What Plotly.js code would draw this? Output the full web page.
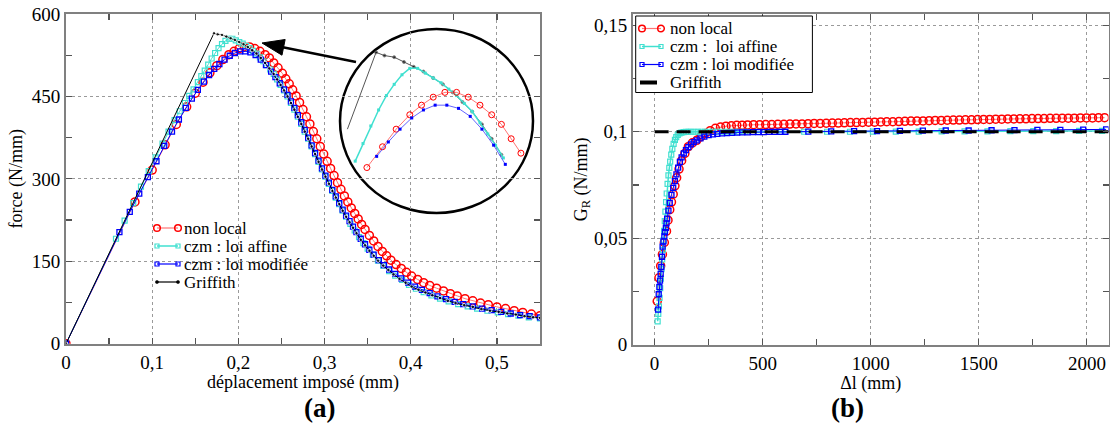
<!DOCTYPE html>
<html><head><meta charset="utf-8">
<script src="https://cdn.plot.ly/plotly-3.0.1.min.js"></script>
<style>html,body{margin:0;padding:0;background:#fff}#chart{width:1110px;height:435px}</style>
</head><body><div id="chart"></div>
<script>
// ---------- (a) force vs imposed displacement ----------
const dispNonLocal = [0, 0.08, 0.1, 0.115, 0.128, 0.14, 0.15, 0.159, 0.167, 0.175, 0.182, 0.189, 0.195, 0.201, 0.207, 0.213, 0.219, 0.225, 0.231, 0.236, 0.241, 0.246, 0.251, 0.255, 0.259, 0.263, 0.267, 0.271, 0.275, 0.279, 0.283, 0.287, 0.291, 0.295, 0.299, 0.303, 0.307, 0.311, 0.315, 0.319, 0.323, 0.327, 0.331, 0.335, 0.339, 0.343, 0.347, 0.352, 0.357, 0.362, 0.367, 0.372, 0.377, 0.383, 0.389, 0.395, 0.401, 0.408, 0.415, 0.422, 0.43, 0.438, 0.446, 0.454, 0.463, 0.472, 0.481, 0.49, 0.5, 0.51, 0.52, 0.53, 0.54, 0.55];
const forceNonLocal = [0, 258, 316, 362, 399, 431, 456, 476, 493, 506, 517, 526, 532, 537, 540, 540, 537, 532, 526, 520, 511, 502, 492, 482, 473, 462, 451, 439, 426, 413, 400, 386, 373, 359, 345, 332, 319, 306, 293, 281, 269, 258, 247, 237, 227, 217, 208, 197, 187, 177, 168, 160, 152, 144, 137, 130, 123, 117, 111, 106, 101, 96, 91, 87, 82, 78, 74, 71, 67, 64, 60, 57, 54, 51];

const dispAffine = [0, 0.058, 0.068, 0.078, 0.087, 0.096, 0.104, 0.112, 0.119, 0.126, 0.132, 0.138, 0.143, 0.148, 0.153, 0.157, 0.161, 0.165, 0.169, 0.173, 0.177, 0.181, 0.185, 0.189, 0.193, 0.197, 0.201, 0.205, 0.209, 0.213, 0.217, 0.221, 0.225, 0.229, 0.233, 0.237, 0.241, 0.245, 0.249, 0.253, 0.257, 0.261, 0.265, 0.269, 0.273, 0.277, 0.281, 0.285, 0.289, 0.293, 0.297, 0.301, 0.305, 0.309, 0.313, 0.317, 0.321, 0.325, 0.33, 0.335, 0.34, 0.345, 0.35, 0.356, 0.362, 0.368, 0.375, 0.382, 0.39, 0.398, 0.406, 0.415, 0.424, 0.434, 0.444, 0.455, 0.466, 0.477, 0.489, 0.501, 0.513, 0.525, 0.537, 0.55];
const forceAffine = [0, 191, 224, 256, 286, 314, 339, 364, 386, 407, 423, 438, 451, 463, 476, 487, 497, 508, 519, 529, 538, 545, 551, 555, 555, 552, 549, 546, 542, 538, 533, 528, 521, 514, 507, 499, 491, 481, 471, 461, 450, 438, 426, 413, 400, 386, 373, 359, 345, 331, 317, 304, 291, 278, 266, 254, 242, 231, 218, 206, 194, 183, 173, 162, 151, 142, 132, 124, 116, 107, 100, 94, 88, 82, 77, 72, 68, 64, 60, 57, 54, 51, 48, 46];

const dispModif = [0, 0.062, 0.074, 0.085, 0.095, 0.105, 0.114, 0.123, 0.131, 0.139, 0.146, 0.153, 0.16, 0.166, 0.172, 0.178, 0.184, 0.19, 0.196, 0.202, 0.208, 0.214, 0.22, 0.226, 0.232, 0.238, 0.243, 0.248, 0.253, 0.257, 0.261, 0.265, 0.269, 0.273, 0.277, 0.281, 0.285, 0.289, 0.293, 0.297, 0.301, 0.305, 0.309, 0.313, 0.317, 0.321, 0.325, 0.329, 0.333, 0.337, 0.342, 0.347, 0.352, 0.357, 0.363, 0.369, 0.375, 0.382, 0.389, 0.397, 0.405, 0.413, 0.422, 0.431, 0.441, 0.451, 0.461, 0.472, 0.483, 0.494, 0.505, 0.516, 0.527, 0.538, 0.55];
const forceModif = [0, 203, 240, 273, 303, 332, 360, 386, 408, 429, 446, 462, 477, 489, 500, 509, 517, 524, 529, 532, 532, 530, 525, 517, 507, 495, 485, 474, 463, 453, 441, 429, 416, 403, 389, 375, 361, 347, 333, 319, 306, 293, 280, 268, 256, 244, 233, 223, 213, 203, 191, 181, 171, 162, 152, 143, 135, 127, 119, 111, 104, 98, 92, 86, 81, 76, 72, 68, 64, 61, 58, 55, 52, 50, 48];

const dispGriffith = [0, 0.157, 0.1717, 0.176, 0.181, 0.186, 0.191, 0.196, 0.201, 0.206, 0.211, 0.216, 0.221, 0.226, 0.231, 0.236, 0.241, 0.245, 0.249, 0.253, 0.257, 0.261, 0.265, 0.269, 0.273, 0.277, 0.281, 0.285, 0.289, 0.293, 0.297, 0.301, 0.305, 0.309, 0.313, 0.317, 0.321, 0.325, 0.329, 0.333, 0.337, 0.342, 0.347, 0.352, 0.357, 0.362, 0.368, 0.374, 0.38, 0.387, 0.394, 0.401, 0.409, 0.417, 0.425, 0.434, 0.443, 0.452, 0.462, 0.472, 0.482, 0.492, 0.502, 0.512, 0.522, 0.532, 0.542, 0.55];
const forceGriffith = [0, 517, 565, 563, 562, 559, 556, 553, 549, 545, 540, 534, 528, 520, 511, 501, 491, 481, 471, 461, 450, 438, 426, 413, 400, 386, 373, 359, 345, 331, 317, 304, 291, 278, 266, 254, 242, 231, 221, 211, 201, 189, 179, 169, 160, 151, 142, 134, 126, 118, 111, 104, 98, 93, 88, 83, 78, 74, 70, 67, 63, 60, 58, 55, 53, 50, 48, 47];

// ---------- (b) G_R vs crack extension ----------
const dlNonLocal = [12, 20, 28, 36, 45, 55, 62, 70, 78, 86, 94, 102, 113, 125, 140, 156, 175, 195, 214, 234, 257, 281, 305, 330, 355, 380, 405, 430, 458, 486, 514, 542, 570, 598, 626, 654, 682, 710, 738, 766, 794, 822, 850, 878, 906, 934, 962, 990, 1018, 1046, 1074, 1102, 1130, 1158, 1186, 1214, 1242, 1270, 1298, 1326, 1354, 1382, 1410, 1438, 1466, 1494, 1522, 1550, 1578, 1606, 1634, 1662, 1690, 1718, 1746, 1774, 1802, 1830, 1858, 1886, 1914, 1942, 1970, 1998, 2026, 2054, 2082];
const grNonLocal = [0.0204, 0.0314, 0.037, 0.0424, 0.048, 0.0533, 0.0585, 0.0634, 0.067, 0.0707, 0.0746, 0.0784, 0.0825, 0.0864, 0.0898, 0.093, 0.0948, 0.096, 0.0977, 0.0992, 0.1005, 0.1016, 0.1022, 0.1026, 0.1028, 0.103, 0.1031, 0.1032, 0.1033, 0.1033, 0.1034, 0.1034, 0.1035, 0.1035, 0.1036, 0.1037, 0.1037, 0.1038, 0.1039, 0.1039, 0.104, 0.1041, 0.1041, 0.1042, 0.1043, 0.1043, 0.1044, 0.1045, 0.1045, 0.1046, 0.1047, 0.1047, 0.1048, 0.1049, 0.105, 0.1051, 0.1051, 0.1052, 0.1053, 0.1053, 0.1054, 0.1055, 0.1055, 0.1056, 0.1056, 0.1057, 0.1058, 0.1058, 0.1059, 0.1059, 0.106, 0.106, 0.1061, 0.1061, 0.1062, 0.1062, 0.1062, 0.1063, 0.1063, 0.1064, 0.1064, 0.1064, 0.1065, 0.1065, 0.1065, 0.1066, 0.1066];

const dlAffine = [14, 17, 20, 23, 26, 29, 32, 35, 38, 41, 44, 47, 50, 53, 56, 60, 64, 68, 72, 77, 82, 88, 94, 100, 107, 115, 124, 134, 145, 157, 170, 185, 200, 216, 233, 251, 270, 290, 312, 336, 362, 390, 420, 480, 586, 692, 798, 904, 1010, 1116, 1222, 1328, 1434, 1540, 1646, 1752, 1858, 1964, 2070];
const grAffine = [0.011, 0.0145, 0.018, 0.022, 0.0265, 0.031, 0.0355, 0.04, 0.0445, 0.049, 0.0535, 0.058, 0.0625, 0.067, 0.071, 0.0755, 0.0795, 0.083, 0.086, 0.0893, 0.092, 0.0943, 0.0962, 0.0975, 0.0985, 0.0992, 0.0996, 0.0998, 0.0999, 0.1, 0.1, 0.1, 0.1, 0.1, 0.1, 0.1, 0.1, 0.1, 0.1, 0.1, 0.1, 0.1, 0.1, 0.1, 0.1, 0.1, 0.1, 0.1, 0.1001, 0.1001, 0.1001, 0.1002, 0.1002, 0.1002, 0.1003, 0.1003, 0.1003, 0.1004, 0.1004];

const dlModif = [16, 19, 22, 25, 28, 31, 34, 37, 41, 45, 48, 52, 55, 58, 64, 70, 78, 86, 94, 101, 109, 117, 125, 135, 145, 156, 168, 181, 195, 212, 230, 250, 270, 290, 312, 335, 358, 382, 405, 430, 455, 480, 505, 530, 555, 580, 605, 711, 817, 923, 1029, 1135, 1241, 1347, 1453, 1559, 1665, 1771, 1877, 1983, 2089];
const grModif = [0.0165, 0.0237, 0.027, 0.0301, 0.0333, 0.0365, 0.0413, 0.0461, 0.0485, 0.0509, 0.0529, 0.0549, 0.057, 0.0592, 0.063, 0.0666, 0.0704, 0.0736, 0.0768, 0.08, 0.0832, 0.0858, 0.088, 0.0898, 0.0914, 0.0928, 0.0941, 0.0951, 0.096, 0.0969, 0.0977, 0.0984, 0.0988, 0.099, 0.0992, 0.0994, 0.0995, 0.0996, 0.0997, 0.0997, 0.0998, 0.0998, 0.0998, 0.0999, 0.0999, 0.0999, 0.1, 0.1001, 0.1002, 0.1003, 0.1003, 0.1004, 0.1005, 0.1006, 0.1006, 0.1007, 0.1008, 0.1009, 0.1009, 0.101, 0.1011];

const dlGriffith = [0, 2100];
const grGriffith = [0.1, 0.1];

// tick values and series names
const forceTicks = [0, 150, 300, 450, 600];
const dispTicks = [0, 0.1, 0.2, 0.3, 0.4, 0.5];
const dlTicks = [0, 500, 1000, 1500, 2000];
const grTicks = [0, 0.05, 0.1, 0.15];
const namesA = ['non local', 'czm : loi affine', 'czm : loi modifiée', 'Griffith'];
const namesB = ['non local', 'czm :\u00a0 loi affine', 'czm : loi modifiée', 'Griffith'];

// ---------- helpers ----------
const W = 1110, H = 435;
const px = v => v / W;
const py = v => 1 - v / H;
const FONT = 'Liberation Serif';
const RED = '#ff0000', REDLINE = 'rgba(255,70,70,0.75)', CYAN = 'rgb(64,224,208)', BLUE = '#0000ff', BLACK = '#000000';

function subset(xs, ys, lo, hi) {
  const X = [], Y = [];
  xs.forEach((v, i) => { if (v >= lo && v <= hi) { X.push(v); Y.push(ys[i]); } });
  return {x: X, y: Y};
}

const traces = [];
// (a) main
traces.push({x: dispNonLocal, y: forceNonLocal, name: namesA[0], mode: 'lines+markers', xaxis: 'x', yaxis: 'y',
  line: {color: REDLINE, width: 1}, marker: {symbol: 'circle-open', size: 8, color: RED, line: {width: 1.5}}});
traces.push({x: dispAffine, y: forceAffine, name: namesA[1], mode: 'lines+markers', xaxis: 'x', yaxis: 'y',
  line: {color: CYAN, width: 1}, marker: {symbol: 'square-open', size: 5, color: CYAN, line: {width: 1.2}}});
traces.push({x: dispModif, y: forceModif, name: namesA[2], mode: 'lines+markers', xaxis: 'x', yaxis: 'y',
  line: {color: BLUE, width: 1}, marker: {symbol: 'square-open', size: 5, color: BLUE, line: {width: 1.3}}});
traces.push({x: dispGriffith, y: forceGriffith, name: namesA[3], mode: 'lines+markers', xaxis: 'x', yaxis: 'y',
  line: {color: BLACK, width: 1}, marker: {symbol: 'circle', size: dispGriffith.map(v => (v > 0 && v < 0.17) ? 0 : 3.5), color: BLACK}});

// (a) inset: magnified view of the peak region
const inR = subset(dispNonLocal, forceNonLocal, 0.167, 0.246);
const inC = subset(dispAffine, forceAffine, 0.161, 0.237);
const inB = subset(dispModif, forceModif, 0.172, 0.238);
const inG = subset(dispGriffith, forceGriffith, 0.157, 0.2365);
traces.push({x: inG.x, y: inG.y, mode: 'lines+markers', xaxis: 'x3', yaxis: 'y3', hoverinfo: 'skip',
  line: {color: '#555', width: 1}, marker: {symbol: 'circle', size: inG.x.map(v => v < 0.17 ? 0 : 3), color: BLACK}});
traces.push({x: inC.x, y: inC.y, mode: 'lines+markers', xaxis: 'x3', yaxis: 'y3', hoverinfo: 'skip',
  line: {color: CYAN, width: 1.5}, marker: {symbol: 'square', size: 3, color: CYAN}});
traces.push({x: inR.x, y: inR.y, mode: 'lines+markers', xaxis: 'x3', yaxis: 'y3', hoverinfo: 'skip',
  line: {color: REDLINE, width: 1}, marker: {symbol: 'circle-open', size: 6, color: RED, line: {width: 1}}});
traces.push({x: inB.x, y: inB.y, mode: 'lines+markers', xaxis: 'x3', yaxis: 'y3', hoverinfo: 'skip',
  line: {color: 'rgba(60,60,255,0.8)', width: 1}, marker: {symbol: 'square', size: 3, color: BLUE}});

// (b)
traces.push({x: dlNonLocal, y: grNonLocal, name: namesB[0], mode: 'lines+markers', xaxis: 'x2', yaxis: 'y2',
  line: {color: REDLINE, width: 1}, marker: {symbol: 'circle-open', size: 8, color: RED, line: {width: 1.5}}});
traces.push({x: dlAffine, y: grAffine, name: namesB[1], mode: 'lines+markers', xaxis: 'x2', yaxis: 'y2',
  line: {color: CYAN, width: 1.5}, marker: {symbol: 'square-open', size: 5, color: CYAN, line: {width: 1.2}}});
traces.push({x: dlModif, y: grModif, name: namesB[2], mode: 'lines+markers', xaxis: 'x2', yaxis: 'y2',
  line: {color: BLUE, width: 1}, marker: {symbol: 'square-open', size: 5, color: BLUE, line: {width: 1.3}}});
traces.push({x: dlGriffith, y: grGriffith, name: namesB[3], mode: 'lines', xaxis: 'x2', yaxis: 'y2',
  line: {color: BLACK, width: 3, dash: '14px,8px'}});

const axisBase = {
  showline: true, linecolor: '#808080', linewidth: 2, mirror: 'ticks',
  ticks: 'inside', ticklen: 6, tickwidth: 1.2, tickcolor: '#555',
  showgrid: true, gridcolor: '#9a9a9a', griddash: 'dot', gridwidth: 1,
  zeroline: false, tickfont: {size: 19, family: FONT, color: '#000'}
};
function ax(extra) { return Object.assign({}, JSON.parse(JSON.stringify(axisBase)), extra); }
const minorT = d => ({dtick: d, ticks: 'inside', ticklen: 6, tickcolor: '#555', showgrid: false});
const titleFont = {size: 18, family: FONT, color: '#000'};

// ---------- legends (frame, symbols and real text) ----------
const shapes = [];
const annotations = [];
function legendEntry(sx0, sx1, y, kind) {
  const yy = py(y);
  if (kind === 'griffB') {
    shapes.push({type: 'line', xref: 'paper', yref: 'paper', x0: px(sx0 - 2), x1: px(sx0 + 15), y0: yy, y1: yy, layer: 'above', line: {color: BLACK, width: 4}});
    return;
  }
  const lc = {red: REDLINE, cyan: CYAN, blue: BLUE, black: BLACK}[kind];
  shapes.push({type: 'line', xref: 'paper', yref: 'paper', x0: px(sx0), x1: px(sx1), y0: yy, y1: yy, layer: 'above', line: {color: lc, width: kind === 'cyan' ? 1.5 : 1.2}});
  [sx0, sx1].forEach(cx => {
    if (kind === 'red') {
      shapes.push({type: 'circle', xref: 'paper', yref: 'paper', x0: px(cx - 3.3), x1: px(cx + 3.3), y0: py(y + 3.3), y1: py(y - 3.3), layer: 'above', fillcolor: 'rgba(0,0,0,0)', line: {color: RED, width: 1.5}});
    } else if (kind === 'black') {
      shapes.push({type: 'circle', xref: 'paper', yref: 'paper', x0: px(cx - 1.6), x1: px(cx + 1.6), y0: py(y + 1.6), y1: py(y - 1.6), layer: 'above', fillcolor: BLACK, line: {color: BLACK, width: 0.5}});
    } else {
      const c = kind === 'cyan' ? CYAN : BLUE;
      shapes.push({type: 'rect', xref: 'paper', yref: 'paper', x0: px(cx - 2), x1: px(cx + 2), y0: py(y + 2), y1: py(y - 2), layer: 'above', fillcolor: 'rgba(0,0,0,0)', line: {color: c, width: 1.2}});
    }
  });
}
function legendText(x, y, txt) {
  annotations.push({x: px(x), y: py(y), xref: 'paper', yref: 'paper', xanchor: 'left', yanchor: 'middle',
    text: txt, showarrow: false, borderpad: 0, font: {size: 17, family: FONT, color: '#000'}});
}
// legend (a): no frame
const legA_y = [228, 246, 264, 282];
const kindsA = ['red', 'cyan', 'blue', 'black'];
legA_y.forEach((y, i) => { legendEntry(157, 178, y, kindsA[i]); legendText(183, y, namesA[i]); });
// legend (b): framed
shapes.push({type: 'rect', xref: 'paper', yref: 'paper', x0: px(635.7), x1: px(812.4), y0: py(92.5), y1: py(16),
  layer: 'above', fillcolor: '#fff', line: {color: '#000', width: 1}});
const legB_y = [28.5, 46.5, 64.5, 82.5];
const kindsB = ['red', 'cyan', 'blue', 'griffB'];
legB_y.forEach((y, i) => { legendEntry(642, 661, y, kindsB[i]); legendText(669, y, namesB[i]); });

// inset circle
shapes.unshift({type: 'circle', xref: 'x3 domain', yref: 'y3 domain', x0: 0, x1: 1, y0: 0, y1: 1,
  fillcolor: '#fff', line: {color: '#000', width: 2.5}, layer: 'below'});

// arrow from the inset to the peak (line + filled head)
(function () {
  const tail = [356, 62], tip = [262, 43];
  const dx = tip[0] - tail[0], dy = tip[1] - tail[1], L = Math.hypot(dx, dy);
  const ux = dx / L, uy = dy / L, hl = 22, hw = 8;
  const bx = tip[0] - ux * hl, by = tip[1] - uy * hl;
  const c1 = [bx - uy * hw, by + ux * hw], c2 = [bx + uy * hw, by - ux * hw];
  shapes.push({type: 'line', xref: 'paper', yref: 'paper', x0: px(tail[0]), y0: py(tail[1]), x1: px(bx + ux * 2), y1: py(by + uy * 2),
    layer: 'above', line: {color: '#000', width: 2.5}});
  const P = p => px(p[0]).toFixed(5) + ',' + py(p[1]).toFixed(5);
  shapes.push({type: 'path', xref: 'paper', yref: 'paper', path: 'M' + P(tip) + 'L' + P(c1) + 'L' + P(c2) + 'Z',
    layer: 'above', fillcolor: '#000', line: {color: '#000', width: 1}});
})();

annotations.push(
  {x: px(302), y: py(425), xref: 'paper', yref: 'paper', text: '<b>(a)</b>', showarrow: false,
   font: {size: 27, family: FONT, color: '#000'}},
  {x: px(866), y: py(425), xref: 'paper', yref: 'paper', text: '<b>(b)</b>', showarrow: false,
   font: {size: 27, family: FONT, color: '#000'}}
);

const layout = {
  width: W, height: H,
  margin: {l: 0, r: 0, t: 0, b: 0},
  paper_bgcolor: '#fff', plot_bgcolor: 'rgba(0,0,0,0)',
  separators: ', ',
  showlegend: false,
  font: {family: FONT, size: 18, color: '#000'},
  xaxis: ax({domain: [px(66), px(540)], anchor: 'y', range: [0, 0.55], tickvals: dispTicks, minor: minorT(0.05),
    title: {text: 'déplacement imposé (mm)', font: titleFont, standoff: 4}}),
  yaxis: ax({domain: [py(343.7), py(14)], anchor: 'x', range: [0, 600], tickvals: forceTicks, minor: minorT(75),
    title: {text: 'force (N/mm)', font: titleFont, standoff: 4}}),
  xaxis2: ax({domain: [px(633), px(1108.5)], anchor: 'y2', range: [-100, 2100], tickvals: dlTicks, minor: minorT(250),
    title: {text: 'Δl (mm)', font: titleFont, standoff: 4}}),
  yaxis2: ax({domain: [py(344.7), py(14)], anchor: 'x2', range: [0, 0.1553], tickvals: grTicks, minor: minorT(0.025),
    title: {text: 'G<sub>R</sub> (N/mm)', font: titleFont, standoff: 2}}),
  xaxis3: {domain: [px(340), px(533)], anchor: 'y3', range: [0.1532, 0.2522], visible: false, fixedrange: true},
  yaxis3: {domain: [py(213), py(29)], anchor: 'x3', range: [464.6, 579.6], visible: false, fixedrange: true},
  shapes: shapes,
  annotations: annotations
};

Plotly.newPlot('chart', traces, layout, {staticPlot: true, displayModeBar: false});
</script></body></html>
